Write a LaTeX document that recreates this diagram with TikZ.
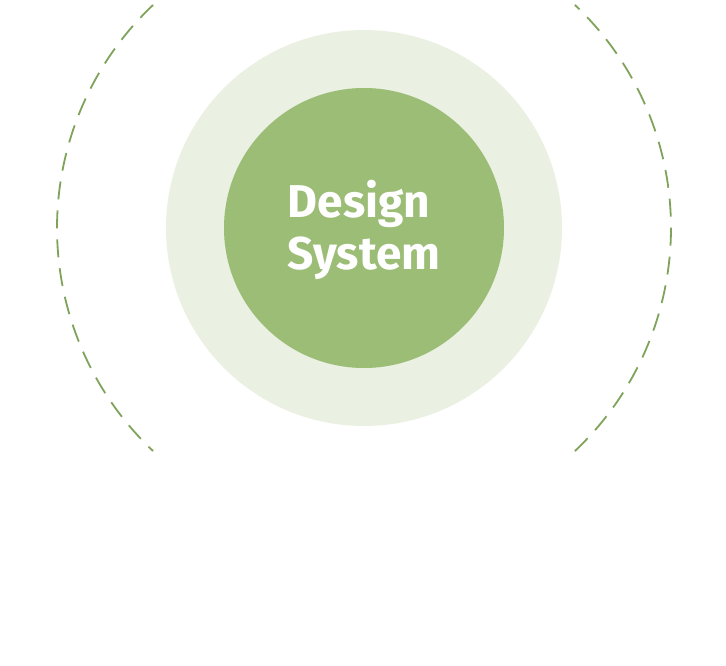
\documentclass[tikz,border=0pt]{standalone}
\usepackage{fontspec}
\setmainfont{Fira Sans}
\definecolor{ringlight}{HTML}{EAF0E2}
\definecolor{coregreen}{HTML}{9CBD76}
\definecolor{dashgreen}{HTML}{7FA35A}
\tikzset{
	orbit/.style={draw=dashgreen, line width=1.8pt, dash pattern=on 18pt off 11pt},
	coretext/.style={text=white, font=\fontsize{46}{52}\selectfont\bfseries, align=left, inner sep=0pt}
}
\begin{document}
\begin{tikzpicture}[x=1pt,y=1pt]
		\useasboundingbox (0,0) rectangle (726,-666);
		\coordinate (c) at (364,-228);
		
		\fill[ringlight] (c) circle (198);
		\fill[coregreen] (c) circle (140);
		\draw[orbit] (c) ++(133.4:307) arc (133.4:226.6:307);
		\draw[orbit] (c) ++(-46.6:307) arc (-46.6:46.6:307);
		
		\node[coretext] (ds) at (364,-230) {Design\\System};
		\end{tikzpicture}
\end{document}
